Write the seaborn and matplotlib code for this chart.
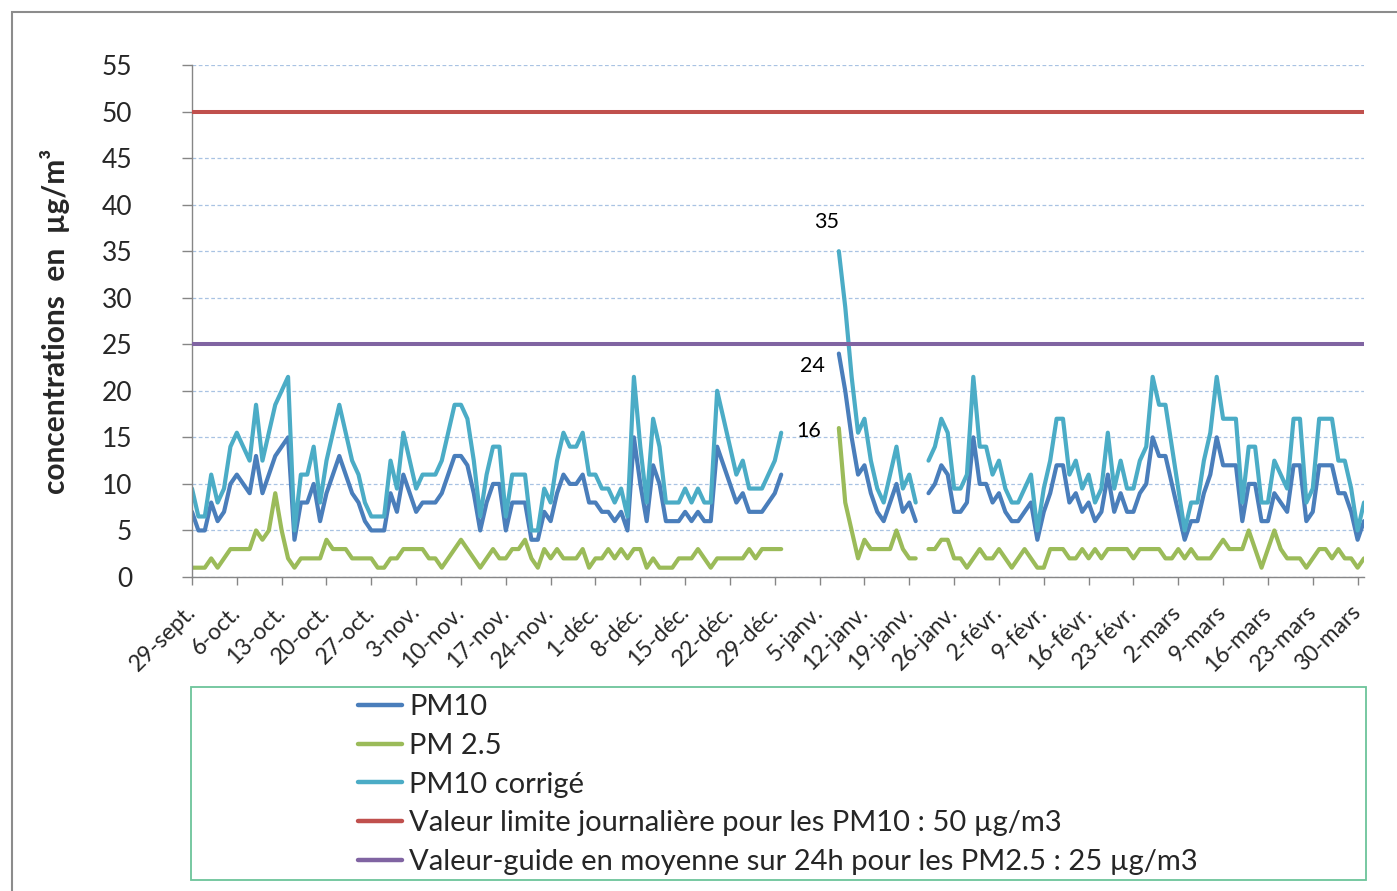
import matplotlib
matplotlib.use("Agg")
import matplotlib.pyplot as plt
import matplotlib.transforms as mtransforms
from matplotlib.lines import Line2D
from matplotlib.patches import Rectangle
import pandas as pd
import seaborn as sns

# daily values, 29 Sept. -> 31 March (None = no measurement)
pm10 = [
    7, 5, 5, 8, 6, 7, 10, 11, 10, 9,
    13, 9, 11, 13, 14, 15, 4, 8, 8, 10,
    6, 9, 11, 13, 11, 9, 8, 6, 5, 5,
    5, 9, 7, 11, 9, 7, 8, 8, 8, 9,
    11, 13, 13, 12, 9, 5, 8, 10, 10, 5,
    8, 8, 8, 4, 4, 7, 6, 9, 11, 10,
    10, 11, 8, 8, 7, 7, 6, 7, 5, 15,
    10, 6, 12, 10, 6, 6, 6, 7, 6, 7,
    6, 6, 14, 12, 10, 8, 9, 7, 7, 7,
    8, 9, 11, None, None, None, None, None, None, None,
    None, 24, 20, 15, 11, 12, 9, 7, 6, 8,
    10, 7, 8, 6, None, 9, 10, 12, 11, 7,
    7, 8, 15, 10, 10, 8, 9, 7, 6, 6,
    7, 8, 4, 7, 9, 12, 12, 8, 9, 7,
    8, 6, 7, 11, 7, 9, 7, 7, 9, 10,
    15, 13, 13, 10, 7, 4, 6, 6, 9, 11,
    15, 12, 12, 12, 6, 10, 10, 6, 6, 9,
    8, 7, 12, 12, 6, 7, 12, 12, 12, 9,
    9, 7, 4, 6,
]

pm25 = [
    1, 1, 1, 2, 1, 2, 3, 3, 3, 3,
    5, 4, 5, 9, 5, 2, 1, 2, 2, 2,
    2, 4, 3, 3, 3, 2, 2, 2, 2, 1,
    1, 2, 2, 3, 3, 3, 3, 2, 2, 1,
    2, 3, 4, 3, 2, 1, 2, 3, 2, 2,
    3, 3, 4, 2, 1, 3, 2, 3, 2, 2,
    2, 3, 1, 2, 2, 3, 2, 3, 2, 3,
    3, 1, 2, 1, 1, 1, 2, 2, 2, 3,
    2, 1, 2, 2, 2, 2, 2, 3, 2, 3,
    3, 3, 3, None, None, None, None, None, None, None,
    None, 16, 8, 5, 2, 4, 3, 3, 3, 3,
    5, 3, 2, 2, None, 3, 3, 4, 4, 2,
    2, 1, 2, 3, 2, 2, 3, 2, 1, 2,
    3, 2, 1, 1, 3, 3, 3, 2, 2, 3,
    2, 3, 2, 3, 3, 3, 3, 2, 3, 3,
    3, 3, 2, 2, 3, 2, 3, 2, 2, 2,
    3, 4, 3, 3, 3, 5, 3, 1, 3, 5,
    3, 2, 2, 2, 1, 2, 3, 3, 2, 3,
    2, 2, 1, 2,
]

pm10_corr = [
    9.5, 6.5, 6.5, 11, 8, 9.5, 14, 15.5, 14, 12.5,
    18.5, 12.5, 15.5, 18.5, 20, 21.5, 5, 11, 11, 14,
    8, 12.5, 15.5, 18.5, 15.5, 12.5, 11, 8, 6.5, 6.5,
    6.5, 12.5, 9.5, 15.5, 12.5, 9.5, 11, 11, 11, 12.5,
    15.5, 18.5, 18.5, 17, 12.5, 6.5, 11, 14, 14, 6.5,
    11, 11, 11, 5, 5, 9.5, 8, 12.5, 15.5, 14,
    14, 15.5, 11, 11, 9.5, 9.5, 8, 9.5, 6.5, 21.5,
    14, 8, 17, 14, 8, 8, 8, 9.5, 8, 9.5,
    8, 8, 20, 17, 14, 11, 12.5, 9.5, 9.5, 9.5,
    11, 12.5, 15.5, None, None, None, None, None, None, None,
    None, 35, 29, 21.5, 15.5, 17, 12.5, 9.5, 8, 11,
    14, 9.5, 11, 8, None, 12.5, 14, 17, 15.5, 9.5,
    9.5, 11, 21.5, 14, 14, 11, 12.5, 9.5, 8, 8,
    9.5, 11, 5, 9.5, 12.5, 17, 17, 11, 12.5, 9.5,
    11, 8, 9.5, 15.5, 9.5, 12.5, 9.5, 9.5, 12.5, 14,
    21.5, 18.5, 18.5, 14, 9.5, 5, 8, 8, 12.5, 15.5,
    21.5, 17, 17, 17, 8, 14, 14, 8, 8, 12.5,
    11, 9.5, 17, 17, 8, 9.5, 17, 17, 17, 12.5,
    12.5, 9.5, 5, 8,
]

week_labels = [
    "29-sept.", "6-oct.", "13-oct.", "20-oct.", "27-oct.", "3-nov.", "10-nov.",
    "17-nov.", "24-nov.", "1-déc.", "8-déc.", "15-déc.", "22-déc.", "29-déc.",
    "5-janv.", "12-janv.", "19-janv.", "26-janv.", "2-févr.", "9-févr.",
    "16-févr.", "23-févr.", "2-mars", "9-mars", "16-mars", "23-mars", "30-mars",
]

series_names = ["PM10", "PM 2.5", "PM10 corrigé"]
series_colors = ["#4A7EBB", "#9BBB59", "#4BACC6"]

limit_values = [50, 25]
limit_names = [
    "Valeur limite journalière pour les PM10 : 50 µg/m3",
    "Valeur-guide en moyenne sur 24h pour les PM2.5 : 25 µg/m3",
]
limit_colors = ["#C0504D", "#8064A2"]

label_day = 101  # first day after the winter gap, values written on the chart


def to_long(values, name):
    rows = []
    seg = 0
    gap = False
    for day, v in enumerate(values):
        if v is None:
            gap = True
            continue
        if gap:
            seg += 1
            gap = False
        rows.append({"day": day, "value": v, "series": name, "segment": f"{name}-{seg}"})
    return rows


df = pd.DataFrame(
    to_long(pm10, series_names[0]) + to_long(pm25, series_names[1]) + to_long(pm10_corr, series_names[2])
)

sns.set_style("white")
plt.rcParams["font.family"] = ["Lato", "DejaVu Sans"]
plt.rcParams["lines.solid_joinstyle"] = "round"
plt.rcParams["lines.solid_capstyle"] = "round"

W, H = 1397, 891
fig = plt.figure(figsize=(W / 100, H / 100), dpi=100)
ax = fig.add_axes([192 / W, 1 - 577 / H, (1364 - 192) / W, (577 - 65) / H])

sns.lineplot(
    data=df, x="day", y="value", hue="series", units="segment", estimator=None,
    hue_order=series_names, palette=dict(zip(series_names, series_colors)),
    linewidth=3.0, legend=False, sort=False, ax=ax,
)

for val, col in zip(limit_values, limit_colors):
    ax.axhline(val, color=col, linewidth=2.9, zorder=4)

ax.set_xlim(0, len(pm10) - 1)
ax.set_ylim(0, 55)
ax.set_yticks(range(0, 56, 5))
ax.set_xticks(range(0, len(pm10) - 1, 7))
ax.set_xticklabels(week_labels, rotation=45, ha="right", va="center", rotation_mode="anchor")
shift = mtransforms.ScaledTranslation(-7 / 100, 0, fig.dpi_scale_trans)
for lab in ax.get_xticklabels():
    lab.set_transform(lab.get_transform() + shift)
ax.yaxis.grid(True, linestyle=(0, (3, 2)), color="#A9C3E3", linewidth=0.9)
ax.xaxis.grid(False)
ax.set_axisbelow(True)

for side in ["top", "right"]:
    ax.spines[side].set_visible(False)
for side in ["left", "bottom"]:
    ax.spines[side].set_color("#868686")
    ax.spines[side].set_linewidth(1.0)

ax.tick_params(axis="y", length=7, width=1, color="#868686", pad=36, labelsize=19, left=True)
ax.tick_params(axis="x", length=6, width=1, color="#868686", pad=17, labelsize=16.5, bottom=True)

ax.set_xlabel("")
ax.set_ylabel("concentrations  en  µg/m³", fontsize=21.5, fontweight="bold")
ax.yaxis.set_label_coords((70 - 192) / (1364 - 192), 0.5)

# data labels on the first day after the gap
label_specs = [(pm10_corr, (-9, 21)), (pm10, (-19, -9)), (pm25, (-22, -2))]
for values, offset in label_specs:
    v = values[label_day]
    ax.annotate(f"{v:g}", xy=(label_day, v), xytext=offset, textcoords="offset points",
                ha="center", va="center", fontsize=15.5, color="black")

# legend box
fig.patches.append(Rectangle((191 / W, 1 - 880 / H), (1366 - 191) / W, (880 - 687) / H,
                             transform=fig.transFigure, fill=False, edgecolor="#6CC49A", linewidth=1.3))
handles = [Line2D([], [], color=c, linewidth=3.2) for c in series_colors + limit_colors]
fig.legend(handles, series_names + limit_names, loc="upper left",
           bbox_to_anchor=(358 / W, 1 - 694 / H), frameon=False, fontsize=21,
           handlelength=1.5, handletextpad=0.25, labelspacing=0.44,
           borderpad=0, borderaxespad=0)

# outer chart border
fig.patches.append(Rectangle((12 / W, -0.1), 1.2, 1.1 - 12 / H, transform=fig.transFigure,
                             fill=False, edgecolor="#8C8C8C", linewidth=1.5))

fig.savefig("out.png", dpi=100)
